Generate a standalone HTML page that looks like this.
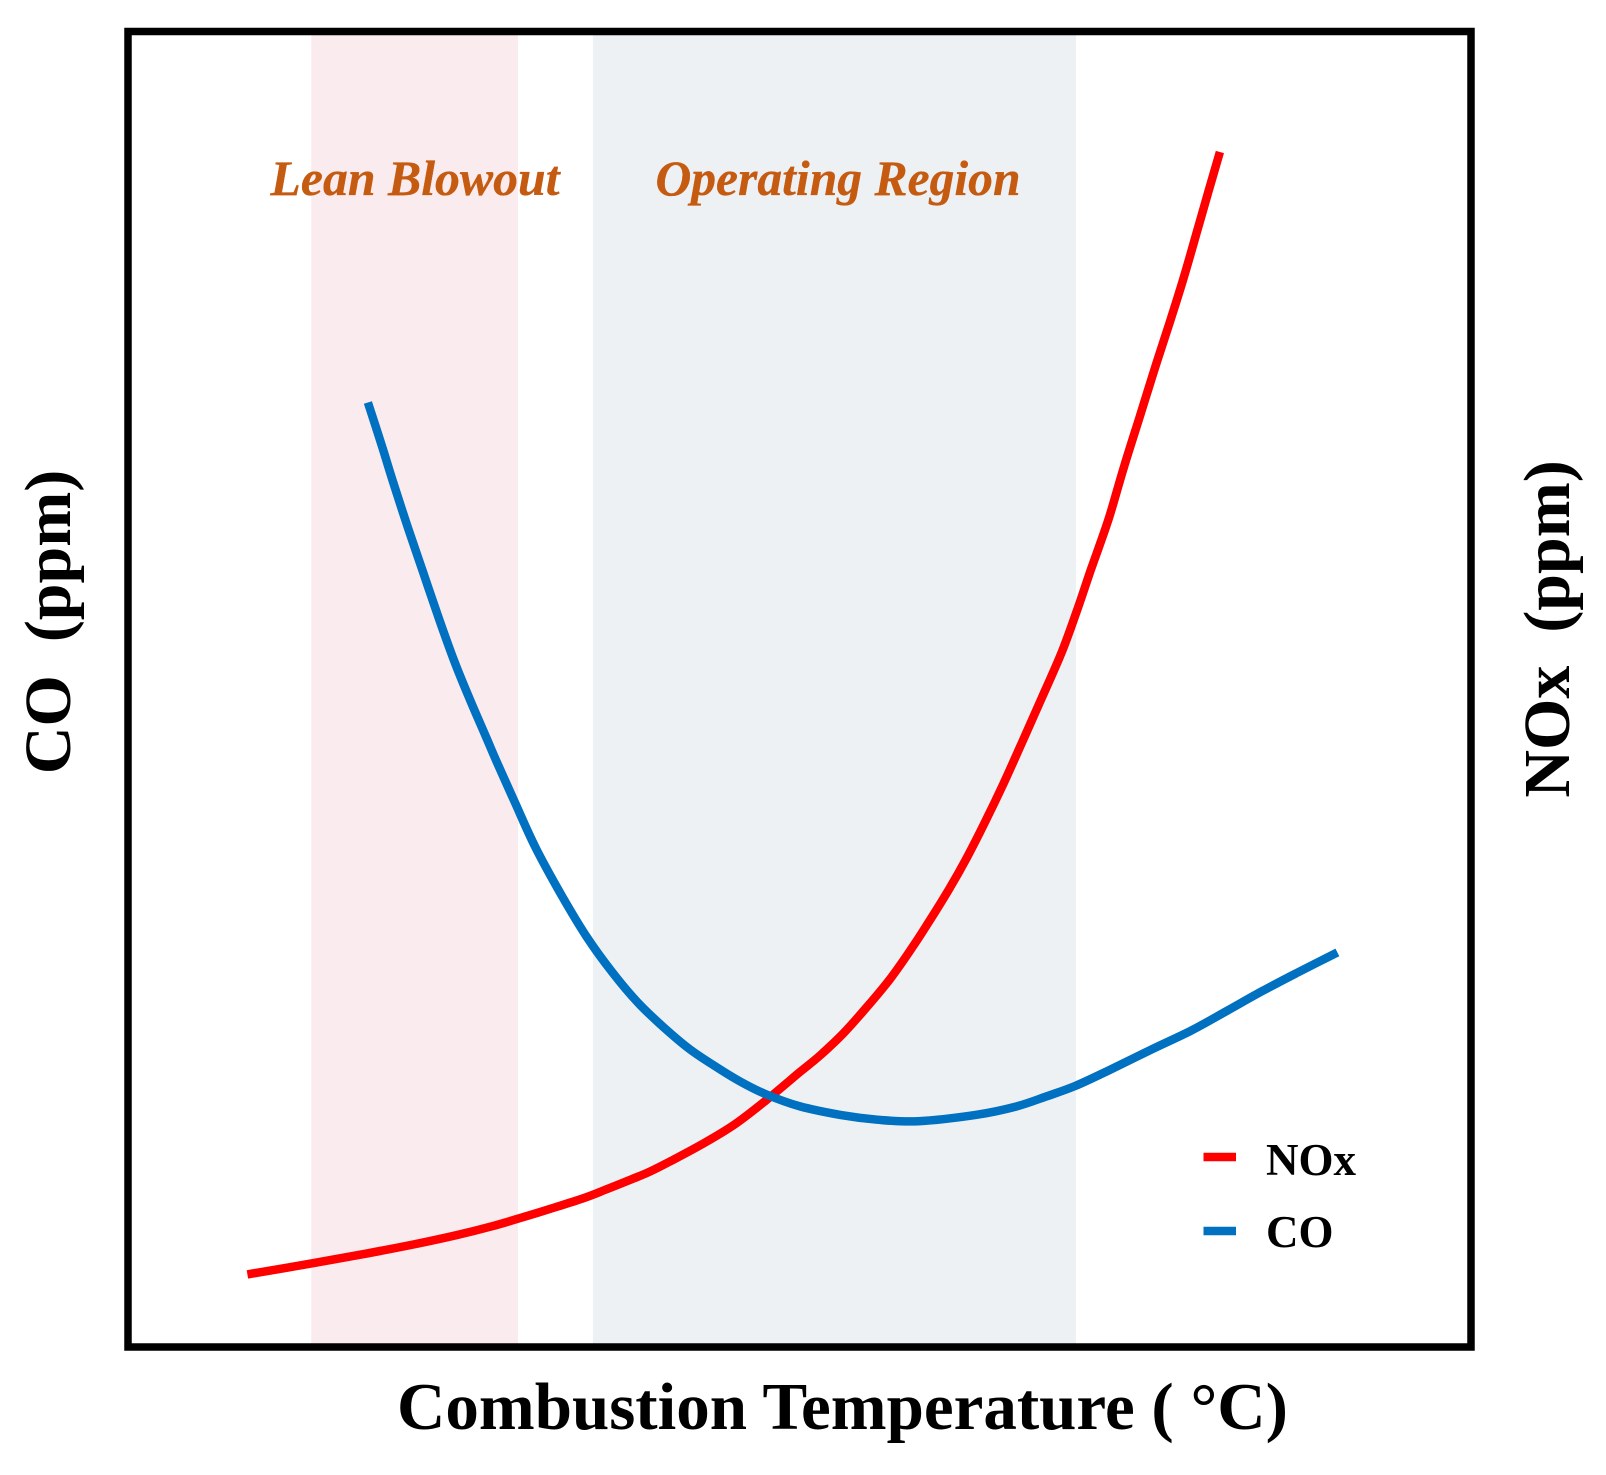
<!DOCTYPE html>
<html lang="en">
<head>
<meta charset="utf-8">
<title>NOx and CO versus Combustion Temperature</title>
<style>
html,body{margin:0;padding:0;background:#fff;width:1606px;height:1475px;overflow:hidden}
svg{display:block}
text{font-family:"Liberation Serif",serif;font-weight:bold;fill:#000;white-space:pre}
</style>
</head>
<body>
<svg id="chart" width="1606" height="1475" viewBox="0 0 1606 1475" xmlns="http://www.w3.org/2000/svg">
  <rect x="0" y="0" width="1606" height="1475" fill="#fff"/>
  <g id="bands"></g>
  <g id="series"></g>
  <rect x="128" y="31.5" width="1343" height="1315.5" fill="none" stroke="#000" stroke-width="7.5"/>
  <text x="415" y="195" text-anchor="middle" font-size="49.8" font-style="italic" stroke="#c55a11" stroke-width="0.3" style="fill:#c55a11">Lean Blowout</text>
  <text x="838" y="195" text-anchor="middle" font-size="49.6" font-style="italic" stroke="#c55a11" stroke-width="0.3" style="fill:#c55a11">Operating Region</text>
  <text x="842.5" y="1429" text-anchor="middle" font-size="67">Combustion Temperature ( °C)</text>
  <text transform="translate(70 622) rotate(-90)" text-anchor="middle" font-size="66">CO  (ppm)</text>
  <text transform="translate(1569 629) rotate(-90)" text-anchor="middle" font-size="66">NOx  (ppm)</text>
  <g>
    <line x1="1203.5" x2="1236" y1="1157" y2="1157" stroke="#ff0000" stroke-width="8.5"/>
    <text x="1266" y="1175" font-size="45">NOx</text>
    <line x1="1203.5" x2="1236" y1="1231" y2="1231" stroke="#0070c0" stroke-width="8.5"/>
    <text x="1266" y="1247" font-size="45">CO</text>
  </g>
</svg>
<script>
const noxTemp = [8.86,13.69,17.79,21.22,24.45,27.11,29.40,31.86,33.94,35.66,37.57,38.90,40.42,42.88,45.17,47.45,50.04,51.57,53.29,55.01,56.74,58.46,59.81,61.15,62.49,63.83,65.17,66.59,68.04,69.57,70.72,71.68,73.03,74.17,75.32,76.48,77.62,78.58,79.54,80.49,81.33];
const noxValues = [5.48,6.33,7.08,7.76,8.47,9.15,9.83,10.61,11.29,11.97,12.75,13.32,14.11,15.46,16.89,18.67,20.88,22.17,23.84,25.80,27.94,30.43,32.57,34.78,37.21,39.89,42.74,45.95,49.29,52.87,56.10,58.97,62.92,66.87,70.60,74.40,77.99,81.10,84.50,87.90,90.84];
const coTemp = [17.84,18.94,19.70,20.84,21.98,23.12,24.26,25.40,26.62,27.49,28.82,30.34,32.24,34.14,36.04,37.95,39.85,41.75,43.65,45.55,47.45,50.04,53.10,55.78,58.85,63.06,66.12,68.42,70.54,73.03,76.09,79.16,81.83,84.52,87.20,90.08];
const coValues = [71.79,68.30,65.79,62.20,58.79,55.38,52.15,49.29,46.41,44.34,41.31,37.92,34.36,31.15,28.47,26.16,24.30,22.66,21.35,20.17,19.20,18.26,17.60,17.25,17.13,17.60,18.24,19.03,19.81,20.99,22.52,24.01,25.51,27.05,28.48,29.97];
const leanBandTemp = [13.62,29.02];
const operatingBandTemp = [34.61,70.60];

const svgNS = 'http://www.w3.org/2000/svg';
const xDomain = [0,100], xRange = [128.5,1470.5];
const yDomain = [0,100], yRange = [1346.5,31.5];
function xScale(v){ return xRange[0] + (v - xDomain[0]) / (xDomain[1] - xDomain[0]) * (xRange[1] - xRange[0]); }
function yScale(v){ return yRange[0] + (v - yDomain[0]) / (yDomain[1] - yDomain[0]) * (yRange[1] - yRange[0]); }

function drawBand(temps, fill){
  const r = document.createElementNS(svgNS, 'rect');
  r.setAttribute('x', xScale(temps[0]));
  r.setAttribute('width', xScale(temps[1]) - xScale(temps[0]));
  r.setAttribute('y', yRange[1]);
  r.setAttribute('height', yRange[0] - yRange[1]);
  r.setAttribute('fill', fill);
  document.getElementById('bands').appendChild(r);
  return r;
}
function smoothPath(pts){
  let d = 'M' + pts[0][0].toFixed(1) + ' ' + pts[0][1].toFixed(1);
  for (let i = 0; i < pts.length - 1; i++) {
    const p0 = pts[Math.max(i - 1, 0)], p1 = pts[i], p2 = pts[i + 1], p3 = pts[Math.min(i + 2, pts.length - 1)];
    const c1x = p1[0] + (p2[0] - p0[0]) / 6, c1y = p1[1] + (p2[1] - p0[1]) / 6;
    const c2x = p2[0] - (p3[0] - p1[0]) / 6, c2y = p2[1] - (p3[1] - p1[1]) / 6;
    d += 'C' + c1x.toFixed(1) + ' ' + c1y.toFixed(1) + ' ' + c2x.toFixed(1) + ' ' + c2y.toFixed(1) + ' ' + p2[0].toFixed(1) + ' ' + p2[1].toFixed(1);
  }
  return d;
}
function drawLine(temps, values, stroke){
  const p = document.createElementNS(svgNS, 'path');
  p.setAttribute('d', smoothPath(temps.map(function(t, i){ return [xScale(t), yScale(values[i])]; })));
  p.setAttribute('fill', 'none');
  p.setAttribute('stroke', stroke);
  p.setAttribute('stroke-width', '8.5');
  p.setAttribute('stroke-linejoin', 'round');
  document.getElementById('series').appendChild(p);
  return p;
}
const leanBand = drawBand(leanBandTemp, '#faebee');


const operatingBand = drawBand(operatingBandTemp, '#eef1f4');


const noxLine = drawLine(noxTemp, noxValues, '#ff0000');


const coLine = drawLine(coTemp, coValues, '#0070c0');


</script>
</body>
</html>
